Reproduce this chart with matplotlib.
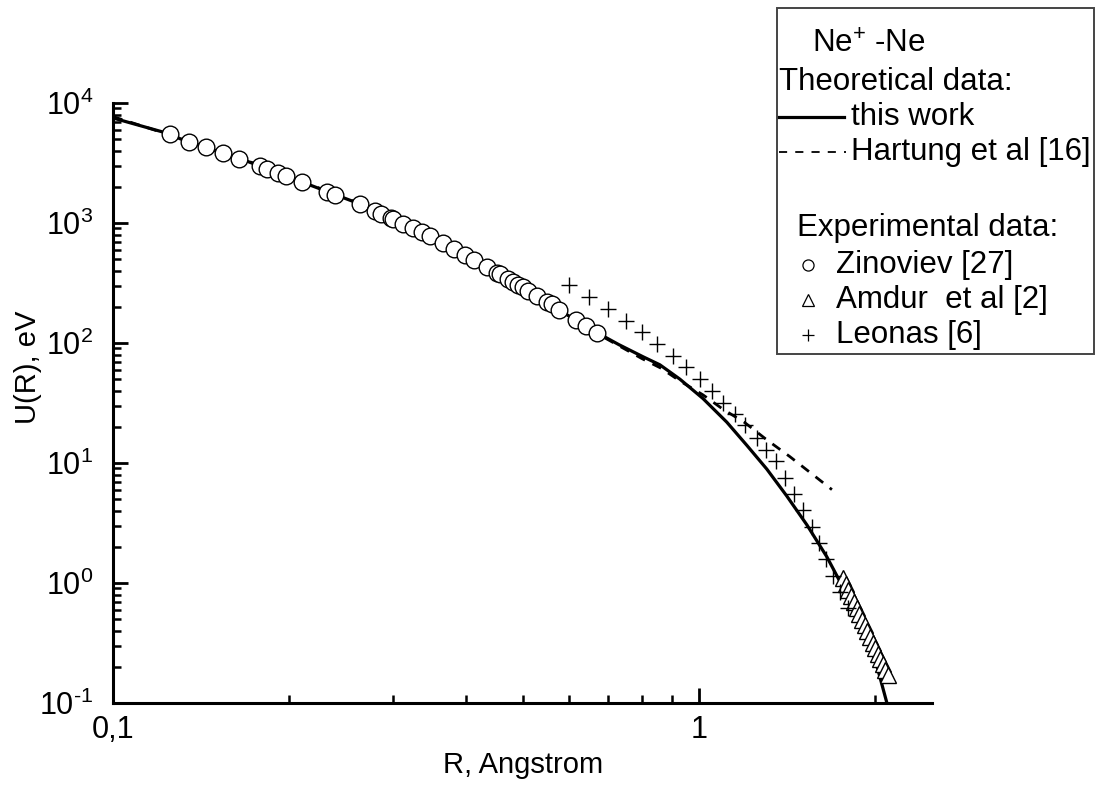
import matplotlib
matplotlib.use("Agg")
import matplotlib.pyplot as plt
from matplotlib.lines import Line2D
from matplotlib.patches import Rectangle
from matplotlib.ticker import FixedLocator, FixedFormatter, LogLocator, NullFormatter, FuncFormatter
import numpy as np

plt.rcParams['font.family'] = ['Liberation Sans', 'DejaVu Sans']
plt.rcParams['mathtext.fontset'] = 'custom'
plt.rcParams['mathtext.rm'] = 'Liberation Sans'
plt.rcParams['mathtext.it'] = 'Liberation Sans:italic'
plt.rcParams['mathtext.bf'] = 'Liberation Sans:bold'

# this work (solid)
r_this = [0.1, 0.125, 0.13, 0.17, 0.21, 0.26, 0.3, 0.35, 0.4, 0.45, 0.5, 0.55, 0.6, 0.67,
          0.73, 0.803, 0.858, 0.928, 1.016, 1.116, 1.208, 1.306, 1.413, 1.529, 1.654,
          1.789, 1.883, 1.958, 2.021, 2.094]
u_this = [7500, 5520, 5050, 3250, 2200, 1480, 1090, 770, 540, 390, 296, 222, 168, 122,
          97, 76.8, 65.8, 50, 34.5, 21.9, 14.0, 8.9, 5.3, 3.05, 1.65,
          0.80, 0.48, 0.30, 0.19, 0.1]

# Hartung et al (dashed)
r_hart = [0.1, 0.13, 0.17, 0.21, 0.26, 0.3, 0.35, 0.4, 0.45, 0.5, 0.55, 0.6, 0.67, 0.73,
          0.8, 0.86, 0.93, 1.016, 1.1, 1.198, 1.306, 1.43, 1.565, 1.687]
u_hart = [7700, 5100, 3280, 2220, 1490, 1100, 775, 545, 392, 297, 222, 167, 120, 95,
          74, 62, 48, 37, 28, 21.7, 15.6, 11.3, 8.0, 6.0]

# Zinoviev [27]
r_zin = [0.125, 0.135, 0.144, 0.154, 0.164, 0.178, 0.183, 0.191, 0.197, 0.210, 0.232,
         0.239, 0.264, 0.280, 0.287, 0.298, 0.300, 0.312, 0.325, 0.337, 0.348, 0.366,
         0.382, 0.399, 0.413, 0.435, 0.452, 0.457, 0.472, 0.481, 0.491, 0.501, 0.511,
         0.529, 0.550, 0.561, 0.577, 0.617, 0.642, 0.670]
u_zin = [5520, 4733, 4302, 3837, 3419, 2988, 2822, 2613, 2467, 2198, 1815,
         1714, 1443, 1261, 1190, 1103, 1082, 983, 910, 843, 781, 683,
         609, 543, 493, 431, 384, 377, 342, 324, 305, 294, 272,
         247, 220, 212, 189, 156, 139, 122]

# Amdur et al [2]
r_amd = [1.76, 1.78, 1.80, 1.82, 1.84, 1.86, 1.88, 1.90, 1.92, 1.94, 1.96, 1.98,
         2.00, 2.02, 2.04, 2.06, 2.08, 2.10]
u_amd = [1.11, 0.99, 0.88, 0.78, 0.70, 0.62, 0.553, 0.495, 0.443, 0.397, 0.356, 0.319,
         0.287, 0.258, 0.232, 0.21, 0.189, 0.171]

# Leonas [6]
r_leo = [0.600, 0.649, 0.699, 0.751, 0.799, 0.848, 0.903, 0.950, 1.004, 1.052, 1.099,
         1.152, 1.198, 1.256, 1.301, 1.353, 1.402, 1.453, 1.505, 1.559, 1.603, 1.647,
         1.693, 1.740, 1.796]
u_leo = [305, 242, 193, 153, 124, 98.5, 78.2, 63.4, 50.3, 40.0, 31.8,
         25.7, 20.8, 16.3, 12.9, 10.3, 7.55, 5.55, 4.08, 2.95, 2.17, 1.60,
         1.15, 0.848, 0.624]

W, H = 1107, 796
fig = plt.figure(figsize=(W / 100, H / 100), dpi=100)
ax = fig.add_axes([113 / W, 1 - 703 / H, 819 / W, 600 / H])

ax.plot(r_this, u_this, color='black', lw=2.3, zorder=3)
ax.plot(r_hart, u_hart, color='black', lw=2.0, dashes=(3.5, 3.0), zorder=2)
ax.plot(r_zin, u_zin, 'o', ms=12, mfc='white', mec='black', mew=1.0, zorder=4)
ax.plot(r_amd, u_amd, '^', ms=11, mfc='white', mec='black', mew=1.0, zorder=4)
ax.plot(r_leo, u_leo, '+', ms=11, color='black', mew=1.0, zorder=4)

ax.set_xscale('log')
ax.set_yscale('log')
ax.set_xlim(0.1, 2.5)
ax.set_ylim(0.1, 1e4)

for s in ['top', 'right']:
    ax.spines[s].set_visible(False)
for s in ['left', 'bottom']:
    ax.spines[s].set_linewidth(2.2)


def pow10(v, pos):
    e = int(round(np.log10(v)))
    if e < 0:
        return r'$10^{\text{-}%d}$' % (-e)
    return r'$10^{%d}$' % e


ax.xaxis.set_major_locator(FixedLocator([0.1, 1]))
ax.xaxis.set_major_formatter(FixedFormatter(['0,1', '1']))
ax.xaxis.set_minor_locator(FixedLocator([0.2, 0.3, 0.4, 0.5, 0.6, 0.7, 0.8, 0.9, 2]))
ax.xaxis.set_minor_formatter(NullFormatter())
ax.yaxis.set_major_locator(LogLocator(base=10, numticks=20))
ax.yaxis.set_major_formatter(FuncFormatter(pow10))
ax.yaxis.set_minor_locator(LogLocator(base=10, subs=range(2, 10), numticks=20))
ax.yaxis.set_minor_formatter(NullFormatter())

ax.tick_params(which='major', direction='in', length=11, width=2, labelsize=22)
ax.tick_params(which='minor', direction='in', length=6, width=1.8)
ax.tick_params(axis='x', which='major', pad=9)
ax.tick_params(axis='y', which='major', pad=14)

fig.text(523 / W, 1 - 765 / H, 'R, Angstrom', fontsize=21, ha='center', va='center')
fig.text(28 / W, 1 - 367 / H, 'U(R), eV', fontsize=21, ha='center', va='center', rotation=90)

# legend box
fig.patches.append(Rectangle((777 / W, 1 - 354 / H), (1094 - 777) / W, (354 - 8) / H,
                             transform=fig.transFigure, fill=False, ec='#444444', lw=1.4))


def fy(py):
    return 1 - py / H


fs = 22.5
fig.text(812 / W, fy(45), 'Ne$^{+}$ -Ne', fontsize=fs, va='center')
fig.text(779 / W, fy(82), 'Theoretical data:', fontsize=fs, va='center')
fig.add_artist(Line2D([779 / W, 844 / W], [fy(117)] * 2, color='black', lw=2.3))
fig.text(851 / W, fy(117), 'this work', fontsize=fs, va='center')
fig.add_artist(Line2D([779 / W, 846 / W], [fy(152)] * 2, color='black', lw=1.3, dashes=(4.5, 4.5)))
fig.text(851 / W, fy(152), 'Hartung et al [16]', fontsize=fs, va='center')
fig.text(797 / W, fy(228), 'Experimental data:', fontsize=fs, va='center')
fig.add_artist(Line2D([808 / W], [fy(265)], marker='o', ms=8, mfc='white', mec='black', mew=0.9))
fig.text(836 / W, fy(265), 'Zinoviev [27]', fontsize=fs, va='center')
fig.add_artist(Line2D([808 / W], [fy(300)], marker='^', ms=9, mfc='white', mec='black', mew=0.9))
fig.text(836 / W, fy(300), 'Amdur  et al [2]', fontsize=fs, va='center')
fig.add_artist(Line2D([808 / W], [fy(335)], marker='+', ms=9, color='black', mew=0.9))
fig.text(836 / W, fy(335), 'Leonas [6]', fontsize=fs, va='center')

fig.savefig('out.png', dpi=100)
